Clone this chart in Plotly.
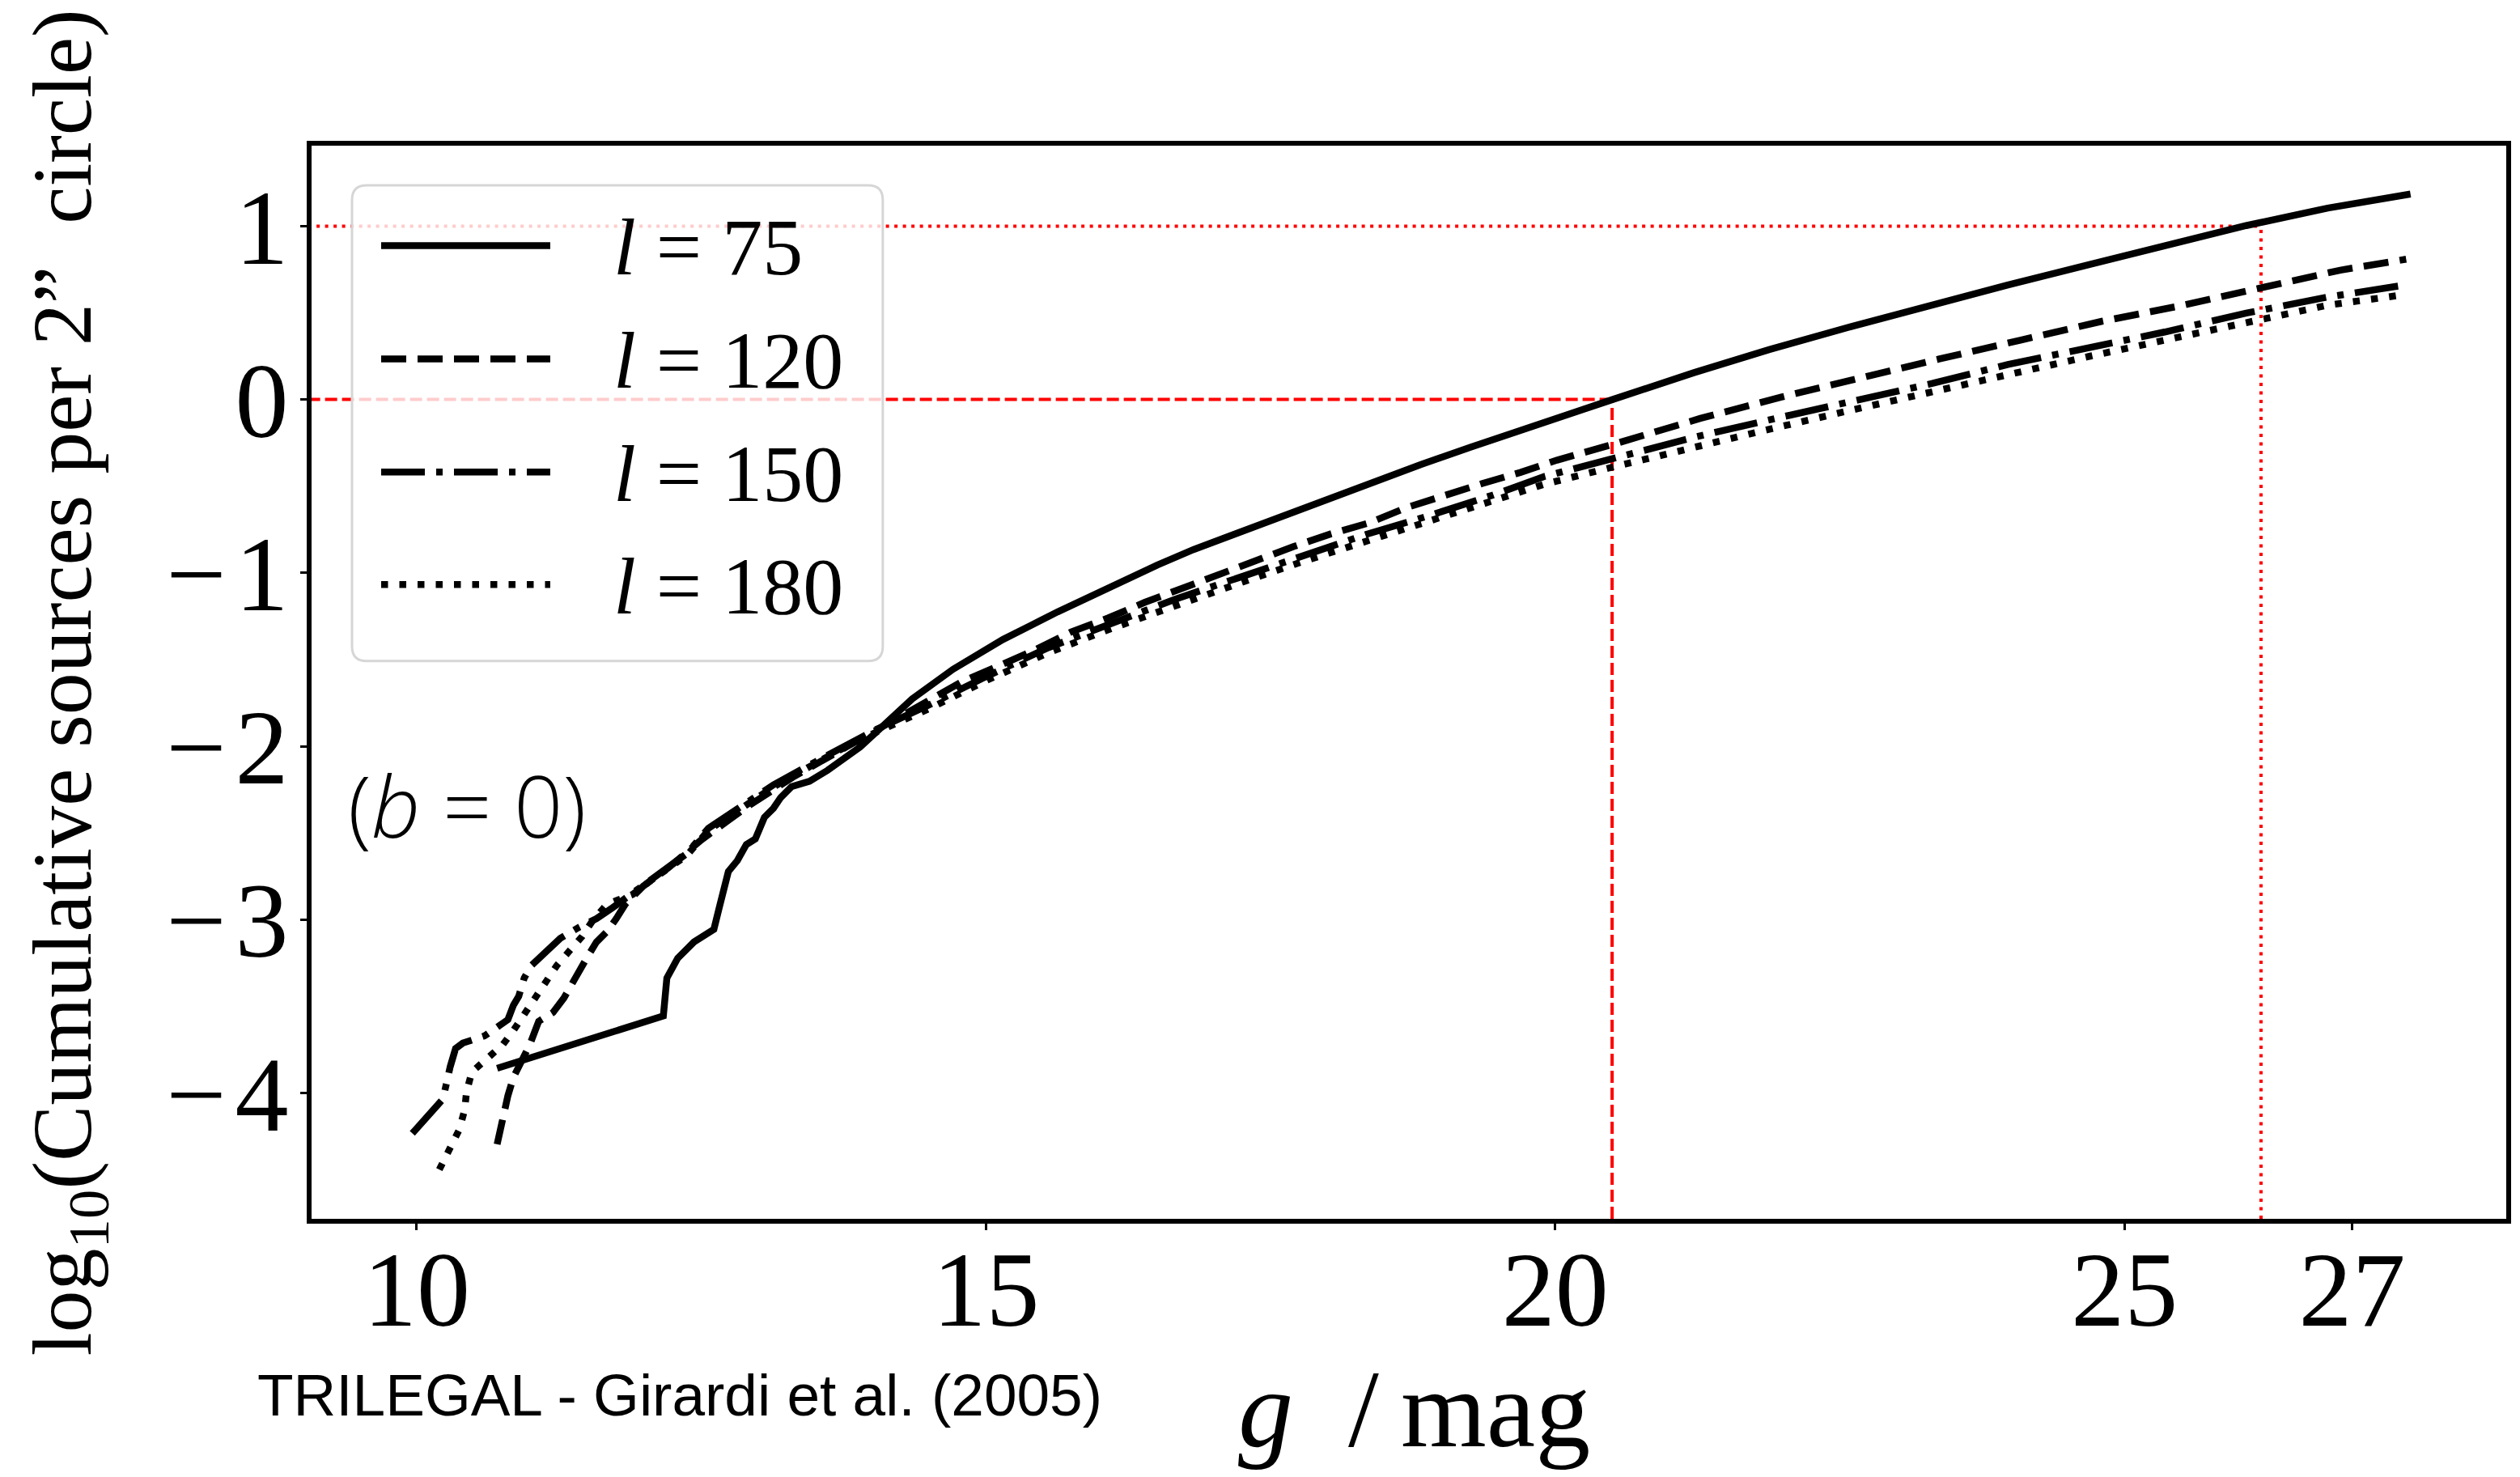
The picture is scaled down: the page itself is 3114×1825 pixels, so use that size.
import plotly.graph_objects as go

# ---------------- data ----------------
g_75 = [10.706, 12.166, 12.197, 12.292, 12.435, 12.610, 12.657, 12.737, 12.816, 12.895,
        12.974, 13.054, 13.133, 13.197, 13.292, 13.450, 13.609, 13.736, 13.895, 14.015,
        14.352, 14.711, 15.150, 15.629, 15.988, 16.506, 16.825, 17.344, 17.703, 18.261,
        18.820, 19.258, 19.697, 20.128, 20.505, 21.221, 21.882, 22.598, 23.260, 23.976,
        24.692, 25.408, 26.070, 26.786, 27.513]
logN_75 = [-3.858, -3.556, -3.337, -3.223, -3.129, -3.056, -2.931, -2.723, -2.660, -2.567,
           -2.535, -2.410, -2.358, -2.296, -2.233, -2.202, -2.139, -2.077, -2.004, -1.931,
           -1.727, -1.556, -1.384, -1.225, -1.110, -0.955, -0.865, -0.735, -0.648, -0.510,
           -0.375, -0.275, -0.175, -0.082, 0.000, 0.155, 0.288, 0.420, 0.537, 0.661,
           0.778, 0.894, 1.003, 1.104, 1.185]

g_120 = [10.706, 10.754, 10.801, 10.849, 10.928, 10.992, 11.071, 11.198, 11.293, 11.388,
         11.483, 11.579, 11.674, 11.753, 11.833, 11.991, 12.213, 12.500, 12.900, 13.300,
         13.700, 14.000, 14.350, 14.783, 15.110, 15.421, 15.748, 16.075, 16.395, 16.726,
         17.053, 17.372, 17.703, 18.030, 18.369, 18.688, 19.019, 19.358, 19.697, 20.016,
         20.560, 21.276, 21.993, 22.654, 23.370, 24.086, 24.802, 25.519, 26.180, 26.896,
         27.475]
logN_120 = [-4.296, -4.140, -4.015, -3.910, -3.806, -3.723, -3.587, -3.535, -3.452, -3.337,
            -3.233, -3.129, -3.067, -2.994, -2.910, -2.806, -2.700, -2.540, -2.350, -2.180,
            -2.030, -1.925, -1.790, -1.630, -1.537, -1.447, -1.341, -1.260, -1.170, -1.086,
            -1.003, -0.926, -0.848, -0.775, -0.711, -0.625, -0.552, -0.485, -0.420, -0.350,
            -0.249, -0.109, 0.015, 0.124, 0.233, 0.342, 0.451, 0.544, 0.638, 0.746,
            0.809]

g_150 = [9.961, 10.230, 10.294, 10.341, 10.405, 10.595, 10.801, 10.849, 10.896, 10.944,
         11.007, 11.150, 11.261, 11.420, 11.579, 11.721, 11.896, 12.054, 12.372, 12.562,
         12.848, 13.133, 13.419, 13.704, 14.015, 14.512, 14.990, 15.549, 16.107, 16.666,
         17.224, 17.782, 18.341, 18.899, 19.458, 19.899, 20.560, 21.221, 21.937, 22.598,
         23.315, 23.976, 24.692, 25.353, 26.070, 26.786, 27.475]
logN_150 = [-4.233, -4.035, -3.848, -3.744, -3.712, -3.671, -3.577, -3.494, -3.442, -3.337,
            -3.265, -3.181, -3.108, -3.046, -2.994, -2.931, -2.848, -2.765, -2.619, -2.473,
            -2.348, -2.223, -2.119, -2.015, -1.910, -1.758, -1.602, -1.431, -1.291, -1.151,
            -1.027, -0.902, -0.778, -0.669, -0.550, -0.445, -0.327, -0.218, -0.109, -0.016,
            0.093, 0.202, 0.295, 0.389, 0.498, 0.591, 0.661]

g_180 = [10.198, 10.294, 10.373, 10.421, 10.437, 10.484, 10.595, 10.754, 10.849, 10.944,
         11.039, 11.119, 11.230, 11.341, 11.452, 11.547, 11.674, 11.896, 12.054, 12.372,
         12.562, 12.848, 13.133, 13.419, 13.704, 14.015, 14.512, 14.990, 15.549, 16.107,
         16.666, 17.224, 17.782, 18.341, 18.899, 19.458, 19.899, 20.560, 21.221, 21.937,
         22.598, 23.315, 23.976, 24.692, 25.353, 26.070, 26.786, 27.475]
logN_180 = [-4.442, -4.327, -4.212, -4.098, -3.994, -3.879, -3.817, -3.723, -3.640, -3.546,
            -3.442, -3.358, -3.265, -3.181, -3.098, -3.004, -2.910, -2.855, -2.775, -2.630,
            -2.485, -2.360, -2.235, -2.130, -2.025, -1.925, -1.780, -1.625, -1.460, -1.320,
            -1.185, -1.060, -0.935, -0.815, -0.705, -0.585, -0.490, -0.381, -0.272, -0.163,
            -0.062, 0.047, 0.148, 0.249, 0.342, 0.443, 0.544, 0.606]

# reference levels: log10 N = 0 reached at g = 20.5, log10 N = 1 at g = 26.2
ref_logN = [0, 1]
ref_g = [20.5, 26.2]

series_labels = ["75", "120", "150", "180"]
x_ticks = [10, 15, 20, 25, 27]
x_ticktext = ["10", "15", "20", "25", "27"]
y_ticks = [-4, -3, -2, -1, 0, 1]
y_ticktext = ["\u2212\u200a4", "\u2212\u200a3", "\u2212\u200a2", "\u2212\u200a1", "0", "1"]

# ---------------- styling / layout ----------------
W_FIG, H_FIG = 3114, 1825
PAGE_OFF = 8                                  # default body margin of the html page
X0, X1, Y0, Y1 = 385, 3097.5, 179.5, 1506     # plot area as seen in the picture (px)
PW, PH = X1 - X0, Y1 - Y0


def px(x):
    return (x - X0) / PW


def py(y):
    return (Y1 - y) / PH


LW = 8.5
dashes = ["solid", "31px,14px", "54px,14px,8px,14px", "8.5px,14px"]
serif = "Liberation Serif"

fig = go.Figure()

# red reference lines (beneath the curves)
fig.add_trace(go.Scatter(x=[8.0, ref_g[0]], y=[ref_logN[0], ref_logN[0]], mode="lines",
                         line=dict(color="#ff0000", width=4, dash="15px,6px"), hoverinfo="skip"))
fig.add_trace(go.Scatter(x=[ref_g[0], ref_g[0]], y=[-6.0, ref_logN[0]], mode="lines",
                         line=dict(color="#ff0000", width=4, dash="15px,6px"), hoverinfo="skip"))
fig.add_trace(go.Scatter(x=[8.0, ref_g[1]], y=[ref_logN[1], ref_logN[1]], mode="lines",
                         line=dict(color="#ff0000", width=4, dash="4px,6.5px"), hoverinfo="skip"))
fig.add_trace(go.Scatter(x=[ref_g[1], ref_g[1]], y=[-6.0, ref_logN[1]], mode="lines",
                         line=dict(color="#ff0000", width=4, dash="4px,6.5px"), hoverinfo="skip"))

curves = [(g_75, logN_75), (g_120, logN_120), (g_150, logN_150), (g_180, logN_180)]
for (gx, ly), lab, d in zip(curves, series_labels, dashes):
    fig.add_trace(go.Scatter(x=gx, y=ly, mode="lines", name="l = " + lab,
                             line=dict(color="black", width=LW, dash=d)))

# ---- custom legend (rounded box, long line samples) ----
bx0, bx1, by0, by1, rad = 435, 1091, 228.5, 816.5, 18
rx, ry = rad / PW, rad / PH
L, R, T, B = px(bx0), px(bx1), py(by0), py(by1)
path = (f"M {L+rx},{T} L {R-rx},{T} Q {R},{T} {R},{T-ry} "
        f"L {R},{B+ry} Q {R},{B} {R-rx},{B} L {L+rx},{B} Q {L},{B} {L},{B+ry} "
        f"L {L},{T-ry} Q {L},{T} {L+rx},{T} Z")
shapes = [dict(type="path", path=path, xref="paper", yref="paper",
               fillcolor="rgba(255,255,255,0.8)", line=dict(color="#d6d6d6", width=3),
               layer="above")]
annotations = []
row_y = [303, 443, 583, 722]
for lab, d, yy in zip(series_labels, dashes, row_y):
    shapes.append(dict(type="line", xref="paper", yref="paper",
                       x0=px(471), x1=px(680), y0=py(yy), y1=py(yy),
                       line=dict(color="black", width=LW, dash=d), layer="above"))
    annotations.append(dict(xref="paper", yref="paper", x=px(756), y=py(yy + 2),
                            xanchor="left", yanchor="middle", showarrow=False,
                            text="<i>l</i> = " + lab,
                            font=dict(family=serif, size=100, color="black")))

# (b = 0)
annotations.append(dict(xref="paper", yref="paper", x=px(428), y=py(994),
                        xanchor="left", yanchor="middle", showarrow=False,
                        text="(<i>b</i> = 0)",
                        font=dict(family="Open Sans", size=106, color="black", weight=300)))
# source credit
annotations.append(dict(xref="paper", yref="paper", x=px(840), y=py(1724),
                        xanchor="center", yanchor="middle", showarrow=False,
                        text="TRILEGAL - Girardi et al. (2005)",
                        font=dict(family="Liberation Sans", size=73, color="black")))
# axis titles
annotations.append(dict(xref="paper", yref="paper", x=px(1748), y=py(1741),
                        xanchor="center", yanchor="middle", showarrow=False,
                        text="<i>g</i>\u2002/\u2009mag",
                        font=dict(family=serif, size=136, color="black")))
annotations.append(dict(xref="paper", yref="paper", x=px(84), y=py(843),
                        xanchor="center", yanchor="middle", showarrow=False, textangle=-90,
                        text="log<sub>10</sub>(Cumulative sources per 2\u201d\u00a0 circle)",
                        font=dict(family=serif, size=104, color="black")))

axis_common = dict(showgrid=False, zeroline=False, showline=True, linecolor="black",
                   linewidth=6, mirror=True, ticks="outside", ticklen=8, tickwidth=2.5,
                   tickcolor="black", automargin=False,
                   tickfont=dict(family=serif, size=132, color="black"))

fig.update_layout(
    width=W_FIG, height=H_FIG,
    margin=dict(l=X0 - PAGE_OFF, r=W_FIG - X1 + PAGE_OFF,
                t=Y0 - PAGE_OFF, b=H_FIG - Y1 + PAGE_OFF, pad=0, autoexpand=False),
    paper_bgcolor="white", plot_bgcolor="white",
    showlegend=False,
    xaxis=dict(range=[9.076, 28.354], tickmode="array", tickvals=x_ticks,
               ticktext=x_ticktext, ticklabelstandoff=-40, **axis_common),
    yaxis=dict(range=[-4.726, 1.464], tickmode="array", tickvals=y_ticks,
               ticktext=y_ticktext, ticklabelstandoff=-12, **axis_common),
    shapes=shapes,
    annotations=annotations,
)

fig.write_html("out.html")
